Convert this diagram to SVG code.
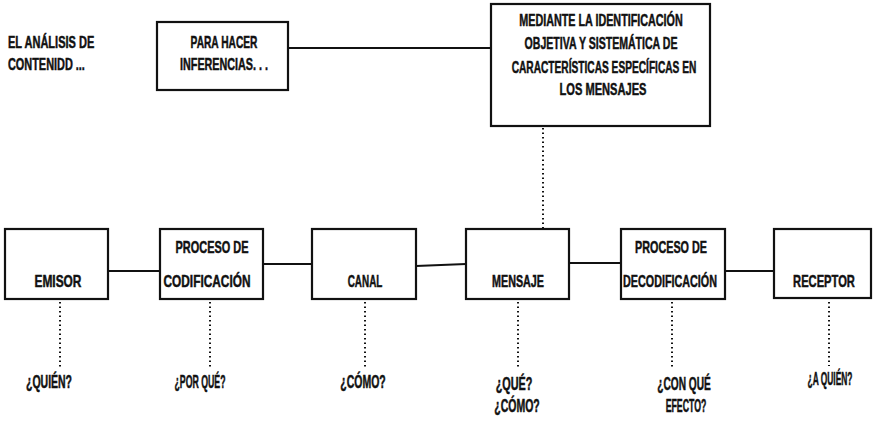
<svg xmlns="http://www.w3.org/2000/svg" width="875" height="423" viewBox="0 0 875 423">
<style>
.box{fill:#fff;stroke:#111;stroke-width:2.2}
.ln{stroke:#111;stroke-width:2;fill:none}
.dot{stroke:#111;stroke-width:2;fill:none;stroke-dasharray:1.5 3}
text{font-family:"Liberation Sans",Arial,sans-serif;font-weight:bold;font-size:16.5px;fill:#111;stroke:#111;stroke-width:0.5;text-anchor:middle}
.l{text-anchor:start}
.q{font-size:17.5px}
</style>
<rect width="875" height="423" fill="#fff"/>
<g id="connectors">
<line class="ln" x1="288" y1="48" x2="491" y2="48"/>
<line class="dot" x1="543" y1="128" x2="543" y2="228"/>
<line class="ln" x1="108" y1="271" x2="160" y2="271"/>
<line class="ln" x1="263" y1="264" x2="312" y2="264"/>
<line class="ln" x1="416" y1="266" x2="466" y2="264"/>
<line class="ln" x1="569" y1="263" x2="621" y2="263"/>
<line class="ln" x1="725" y1="271" x2="774" y2="271"/>
<line class="dot" x1="60" y1="302" x2="60" y2="368"/>
<line class="dot" x1="210" y1="302" x2="210" y2="368"/>
<line class="dot" x1="365" y1="302" x2="365" y2="368"/>
<line class="dot" x1="518" y1="302" x2="518" y2="368"/>
<line class="dot" x1="672" y1="302" x2="672" y2="368"/>
<line class="dot" x1="829" y1="302" x2="829" y2="366"/>
</g>
<g id="title">
<text class="l" transform="translate(8,48) scale(0.668,1)">EL ANÁLISIS DE</text>
<text class="l" transform="translate(8,70) scale(0.661,1)">CONTENIDD ...</text>
</g>
<g id="inferencias">
<rect class="box" x="157" y="22" width="131" height="68"/>
<text transform="translate(224,48) scale(0.618,1)">PARA HACER</text>
<text transform="translate(224,70) scale(0.653,1)">INFERENCIAS. . .</text>
</g>
<g id="mediante">
<rect class="box" x="491" y="4" width="219" height="122"/>
<text transform="translate(601,26) scale(0.653,1)">MEDIANTE LA IDENTIFICACIÓN</text>
<text transform="translate(601,49) scale(0.64,1)">OBJETIVA Y SISTEMÁTICA DE</text>
<text transform="translate(604,73) scale(0.617,1)">CARACTERÍSTICAS ESPECÍFICAS EN</text>
<text transform="translate(603,95) scale(0.673,1)">LOS MENSAJES</text>
</g>
<g id="emisor">
<rect class="box" x="5" y="229" width="103" height="70"/>
<text transform="translate(58,287) scale(0.722,1)">EMISOR</text>
</g>
<g id="codificacion">
<rect class="box" x="160" y="229" width="103" height="70"/>
<text transform="translate(212,253) scale(0.663,1)">PROCESO DE</text>
<text transform="translate(207,287) scale(0.719,1)">CODIFICACIÓN</text>
</g>
<g id="canal">
<rect class="box" x="312" y="229" width="104" height="70"/>
<text transform="translate(365,287) scale(0.6,1)">CANAL</text>
</g>
<g id="mensaje">
<rect class="box" x="466" y="229" width="103" height="70"/>
<text transform="translate(518,287) scale(0.652,1)">MENSAJE</text>
</g>
<g id="decodificacion">
<rect class="box" x="621" y="229" width="104" height="70"/>
<text transform="translate(671,253) scale(0.654,1)">PROCESO DE</text>
<text transform="translate(670,287) scale(0.653,1)">DECODIFICACIÓN</text>
</g>
<g id="receptor">
<rect class="box" x="774" y="229" width="97" height="69"/>
<text transform="translate(824,287) scale(0.676,1)">RECEPTOR</text>
</g>
<g id="preguntas">
<text class="q" transform="translate(49,388) scale(0.6,1)">¿QUIÉN?</text>
<text class="q" transform="translate(200,388) scale(0.5,1)">¿POR QUÉ?</text>
<text class="q" transform="translate(363,388) scale(0.6,1)">¿CÓMO?</text>
<text class="q" transform="translate(514,390) scale(0.62,1)">¿QUÉ?</text>
<text class="q" transform="translate(517,412) scale(0.6,1)">¿CÓMO?</text>
<text class="q" transform="translate(684,390) scale(0.58,1)">¿CON QUÉ</text>
<text class="q" transform="translate(686,412) scale(0.5,1)">EFECTO?</text>
<text class="q" transform="translate(830,385) scale(0.48,1)">¿A QUIÉN?</text>
</g>
</svg>
